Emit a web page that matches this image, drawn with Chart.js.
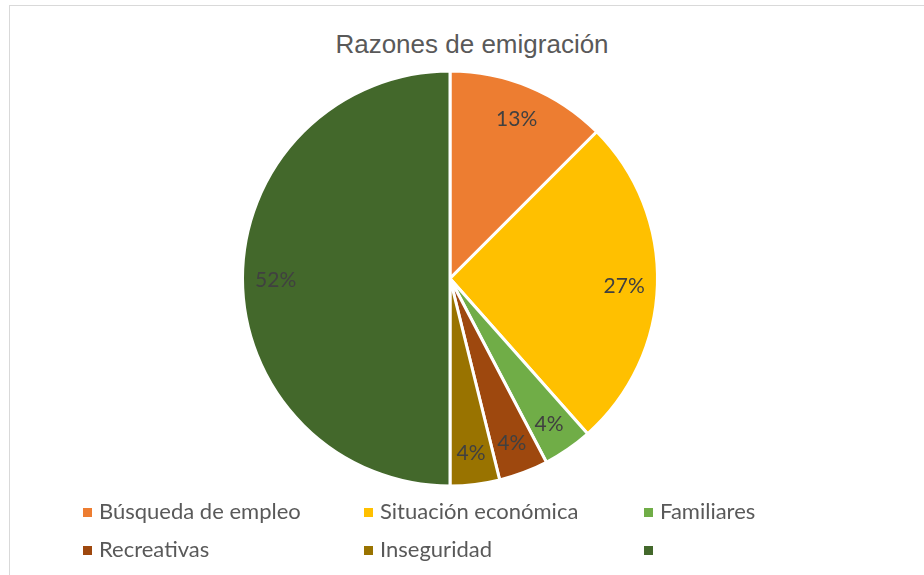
<!DOCTYPE html>
<html>
<head>
<meta charset="utf-8">
<script src="https://cdn.jsdelivr.net/npm/chart.js@4/dist/chart.umd.min.js"></script>
<style>
  html, body { margin: 0; padding: 0; background: #fff; }
  #wrap { position: relative; width: 924px; height: 575px; overflow: hidden; }
  #frame { position: absolute; left: 9px; top: 5px; width: 940px; height: 600px; border: 1px solid #d9d9d9; }
  #title { position: absolute; left: 10px; width: 924px; top: 29px; text-align: center;
           font-family: "Liberation Sans", Arial, sans-serif; font-size: 26px; color: #595959; }
  canvas { position: absolute; left: 0; top: 0; }
  .leg { position: absolute; font-family: Lato, "Open Sans", sans-serif; font-size: 22px; color: #595959;
         white-space: nowrap; line-height: 24px; }
  .leg span { display: inline-block; width: 9px; height: 9px; margin-right: 7px; vertical-align: 2px; }
</style>
</head>
<body>
<div id="wrap">
  <div id="frame"></div>
  <div id="title">Razones de emigración</div>
  <canvas id="chart" width="924" height="575"></canvas>
  <div id="legend"></div>
</div>
<script>
// data
var categories = ['Búsqueda de empleo', 'Situación económica', 'Familiares', 'Recreativas', 'Inseguridad', ''];
var values = [13, 27, 4, 4, 4, 52];
var colors = ['#ED7D31', '#FFC000', '#70AD47', '#9E480E', '#997300', '#43682B'];

// data labels drawn at ~85% of the radius, like the original
var pieLabels = {
  id: 'pieLabels',
  afterDatasetsDraw: function(chart) {
    var ctx = chart.ctx;
    var meta = chart.getDatasetMeta(0);
    ctx.save();
    ctx.font = '21px Lato, "Open Sans", sans-serif';
    ctx.fillStyle = '#404040';
    ctx.textAlign = 'center';
    ctx.textBaseline = 'middle';
    meta.data.forEach(function(arc, i) {
      var p = arc.getProps(['x', 'y', 'startAngle', 'endAngle', 'outerRadius'], true);
      var mid = (p.startAngle + p.endAngle) / 2;
      var r = p.outerRadius * 0.84;
      ctx.fillText(values[i] + '%', p.x + Math.cos(mid) * r, p.y + 2 + Math.sin(mid) * r);
    });
    ctx.restore();
  }
};

var chart = new Chart(document.getElementById('chart'), {
  type: 'pie',
  data: {
    labels: categories,
    datasets: [{
      data: values,
      backgroundColor: colors,
      borderColor: '#ffffff',
      borderWidth: 3
    }]
  },
  options: {
    responsive: false,
    animation: false,
    layout: { padding: { top: 69, bottom: 87, left: 241, right: 265 } },
    plugins: {
      legend: { display: false },
      title: { display: false },
      tooltip: { enabled: false }
    }
  },
  plugins: [pieLabels]
});

// legend in three columns, two rows
var legend = document.getElementById('legend');
var colX = [83, 364, 644];
var rowY = [499, 537];
for (var i = 0; i < categories.length; i++) {
  var d = document.createElement('div');
  d.className = 'leg';
  d.style.left = colX[i % 3] + 'px';
  d.style.top = rowY[Math.floor(i / 3)] + 'px';
  d.innerHTML = '<span style="background:' + colors[i] + '"></span>' + categories[i];
  legend.appendChild(d);
}
</script>
</body>
</html>
